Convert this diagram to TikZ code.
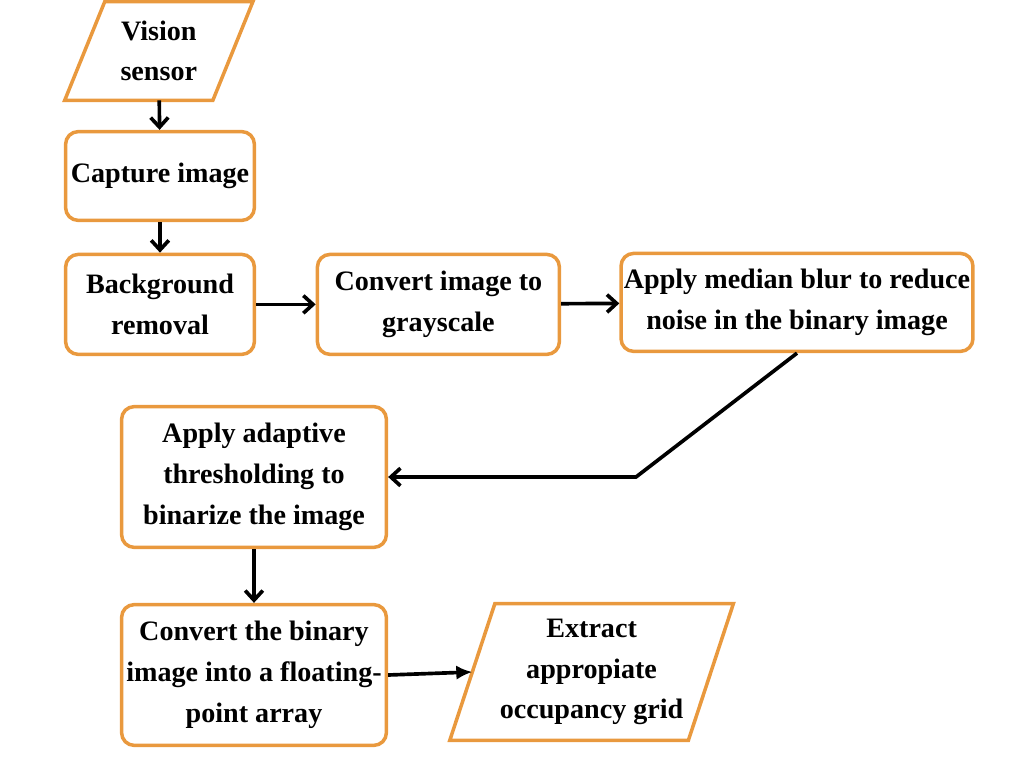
\documentclass[tikz,border=0pt]{standalone}
\usepackage{fontspec}
\setmainfont{Liberation Serif}
\usetikzlibrary{calc,arrows.meta}
\definecolor{boxorange}{RGB}{233,153,62}

\begin{document}
\begin{tikzpicture}[
    font=\fontsize{20}{29}\selectfont\bfseries,
    stepbox/.style={draw=boxorange,line width=2.5pt,rounded corners=9pt,align=center,inner sep=2pt},
    iobox/.style={align=center,inner sep=2pt},
    flow/.style={line width=2.6pt,-{Straight Barb[length=2.4mm,width=4.4mm,line width=2.6pt]}},
    flowfill/.style={line width=2.6pt,-{Latex[length=4mm,width=3.6mm]}}]
              \useasboundingbox (0,0) rectangle (25.6,-19.2);
              \node[iobox,minimum width=3.69cm,minimum height=2.45cm](vis)at(3.97,-1.275){Vision\\sensor};
              \draw[boxorange,line width=2.5pt]($(vis.south west)+(-0.5,0)$)--($(vis.north west)+(0.5,0)$)--($(vis.north east)+(0.5,0)$)--($(vis.south east)+(-0.5,0)$)--cycle;
              \node[stepbox,minimum width=4.72cm,minimum height=2.22cm](cap)at(4.0,-4.4){Capture image};
              \node[stepbox,minimum width=4.72cm,minimum height=2.5cm](bg)at(4.0,-7.61){Background\\removal};
              \node[stepbox,minimum width=6.05cm,minimum height=2.5cm](gray)at(10.96,-7.61){Convert image to\\grayscale};
              \node[stepbox,minimum width=8.72cm,minimum height=2.45cm](blur)at(19.925,-7.56){Apply median blur to reduce\\noise in the binary image};
              \node[stepbox,minimum width=6.62cm,minimum height=3.52cm](thr)at(6.35,-11.925){Apply adaptive\\thresholding to\\binarize the image};
              \node[stepbox,minimum width=6.62cm,minimum height=3.52cm](bin)at(6.35,-16.875){Convert the binary\\image into a floating-\\point array};
              \node[iobox,minimum width=5.95cm,minimum height=3.4cm](ext)at(14.79,-16.8){Extract\\appropiate\\occupancy grid};
              \draw[boxorange,line width=2.5pt]($(ext.south west)+(-0.5625,0)$)--($(ext.north west)+(0.5625,0)$)--($(ext.north east)+(0.5625,0)$)--($(ext.south east)+(-0.5625,0)$)--cycle;
              \coordinate(bend)at(15.9,-11.925);
              \draw[flow](vis)--(cap);
              \draw[flow](cap)--(bg);
              \draw[flow](bg)--(gray);
              \draw[flow](gray)--(blur);
              \draw[flow](blur.south)--(bend)--(thr.east);
              \draw[flow](thr)--(bin);
              \draw[flowfill](bin.east)--(ext.west);
            \end{tikzpicture}
\end{document}
